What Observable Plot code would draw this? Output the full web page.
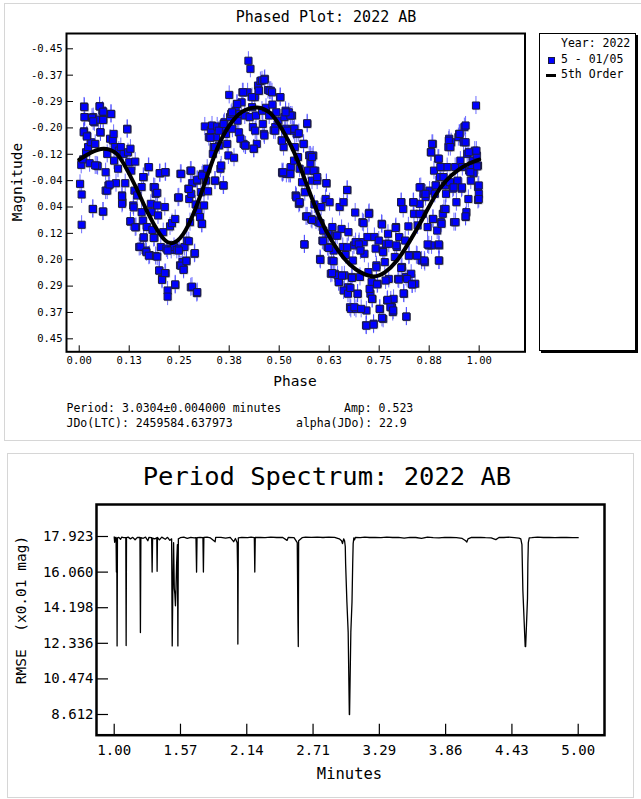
<!DOCTYPE html>
<html><head><meta charset="utf-8">
<script src="https://cdn.jsdelivr.net/npm/d3@7"></script>
<script src="https://cdn.jsdelivr.net/npm/@observablehq/plot@0.6"></script>
<style>
body{margin:0;background:#fff;width:641px;height:799px;overflow:hidden;font-family:"DejaVu Sans Mono",monospace;color:#000}
#root{position:relative;width:641px;height:799px;overflow:hidden}
.abs{position:absolute;white-space:pre;line-height:1}
svg{position:absolute}
</style></head><body><div id="root"></div>
<script>
// ---------- DATA ----------
const phaseTicks = [0, 0.125, 0.25, 0.375, 0.5, 0.625, 0.75, 0.875, 1];
const phaseTickLabels = ["0.00","0.13","0.25","0.38","0.50","0.63","0.75","0.88","1.00"];
const magTicks = [-0.45,-0.3682,-0.2864,-0.2045,-0.1227,-0.0409,0.0409,0.1227,0.2045,0.2864,0.3682,0.45];
const magTickLabels = ["-0.45","-0.37","-0.29","-0.20","-0.12","-0.04","0.04","0.12","0.20","0.29","0.37","0.45"];
const magError = 0.028;
// observations: [phase, magnitude]
const observations = [
[0.002,-0.031],[0.006,0.002],[0.006,0.096],[0.005,-0.09],[0.01,-0.107],[0.012,-0.271],[0.014,-0.238],[0.012,-0.194],
[0.019,-0.181],[0.017,-0.129],[0.022,-0.145],[0.026,-0.095],[0.03,-0.16],[0.034,0.047],[0.035,-0.238],[0.038,-0.222],
[0.04,-0.155],[0.044,-0.088],[0.046,-0.086],[0.048,-0.23],[0.051,-0.272],[0.053,-0.191],[0.058,-0.258],[0.06,-0.232],
[0.059,0.055],[0.066,-0.067],[0.066,-0.01],[0.07,-0.124],[0.073,-0.026],[0.079,-0.248],[0.077,-0.171],[0.084,-0.166],
[0.087,-0.103],[0.089,-0.145],[0.092,-0.033],[0.097,-0.078],[0.099,-0.134],[0.107,0.005],[0.108,0.026],[0.104,-0.145],
[0.111,-0.124],[0.115,-0.033],[0.12,-0.202],[0.122,-0.129],[0.125,-0.098],[0.128,-0.14],[0.128,0.086],[0.13,-0.072],
[0.135,0.036],[0.138,-0.01],[0.14,-0.1],[0.142,0.103],[0.145,0.005],[0.15,0.165],[0.156,-0.021],[0.156,0.057],
[0.159,0.083],[0.161,0.136],[0.161,-0.052],[0.166,0.176],[0.169,0.103],[0.173,-0.083],[0.176,0.19],[0.179,0.031],
[0.181,0.057],[0.183,0.112],[0.186,-0.021],[0.188,0.136],[0.191,0],[0.191,0.193],[0.195,0.036],[0.197,0.067],
[0.2,0.238],[0.202,-0.064],[0.204,0.165],[0.207,0.264],[0.21,0.119],[0.214,0.041],[0.216,-0.067],[0.216,0.246],
[0.218,0.17],[0.221,0.3],[0.227,0.101],[0.232,0.091],[0.23,0.174],[0.237,0.165],[0.24,0.283],[0.24,0.078],
[0.244,0.174],[0.247,0.012],[0.25,0.17],[0.252,0.222],[0.253,-0.062],[0.258,0.212],[0.261,0.233],[0.263,0.165],
[0.268,0.207],[0.269,0.145],[0.273,-0.016],[0.275,0.016],[0.277,0.088],[0.278,-0.072],[0.279,0.29],[0.28,0],
[0.283,-0.033],[0.288,0.186],[0.291,0.033],[0.294,0.308],[0.295,-0.041],[0.298,0.057],[0.302,0.072],[0.304,-0.005],
[0.306,0.093],[0.309,-0.062],[0.312,0.036],[0.314,-0.209],[0.317,-0.041],[0.322,-0.008],[0.324,-0.176],[0.329,-0.197],
[0.332,-0.212],[0.334,-0.124],[0.336,-0.145],[0.339,-0.041],[0.342,-0.176],[0.345,-0.209],[0.35,-0.15],[0.353,-0.078],
[0.355,-0.088],[0.358,-0.207],[0.36,-0.026],[0.363,-0.222],[0.367,-0.186],[0.37,-0.155],[0.373,-0.119],[0.375,-0.307],
[0.377,-0.238],[0.38,-0.248],[0.383,-0.202],[0.387,-0.112],[0.391,-0.258],[0.394,-0.279],[0.396,-0.227],[0.399,-0.191],
[0.401,-0.248],[0.406,-0.284],[0.408,-0.315],[0.411,-0.155],[0.414,-0.243],[0.416,-0.15],[0.421,-0.315],[0.423,-0.413],
[0.426,-0.238],[0.428,-0.388],[0.432,-0.269],[0.434,-0.207],[0.437,-0.14],[0.439,-0.3],[0.442,-0.243],[0.444,-0.155],
[0.447,-0.336],[0.449,-0.32],[0.453,-0.35],[0.457,-0.258],[0.459,-0.217],[0.462,-0.186],[0.464,-0.357],[0.467,-0.267],
[0.472,-0.322],[0.475,-0.243],[0.479,-0.32],[0.483,-0.277],[0.486,-0.197],[0.49,-0.207],[0.493,-0.253],[0.498,-0.227],
[0.502,-0.3],[0.506,-0.166],[0.508,-0.064],[0.511,-0.145],[0.513,-0.238],[0.516,-0.202],[0.518,-0.062],[0.524,-0.253],
[0.527,-0.062],[0.529,-0.083],[0.532,-0.243],[0.534,-0.202],[0.537,-0.103],[0.539,-0.145],[0.541,0.005],[0.544,-0.186],
[0.547,-0.114],[0.549,0.031],[0.551,-0.078],[0.557,-0.036],[0.561,-0.155],[0.563,0.157],[0.564,-0.005],[0.567,0.07],
[0.57,-0.217],[0.572,-0.072],[0.575,-0.119],[0.578,-0.095],[0.58,0.078],[0.582,-0.041],[0.585,-0.119],[0.588,0.033],
[0.59,-0.072],[0.592,0.083],[0.595,-0.041],[0.598,0.088],[0.602,0.202],[0.605,0.041],[0.608,0.145],[0.61,0.114],
[0.616,0.016],[0.618,-0.033],[0.621,0.165],[0.623,0.124],[0.626,0.026],[0.629,0.248],[0.631,0.207],[0.633,0.103],
[0.636,0.176],[0.639,0.248],[0.641,0.129],[0.646,0.253],[0.649,0.274],[0.651,0.041],[0.656,0.109],[0.659,0.165],
[0.661,0.026],[0.663,0.253],[0.666,0.19],[0.67,-0.012],[0.672,0.29],[0.673,0.119],[0.677,0.352],[0.679,0.357],
[0.682,0.258],[0.684,0.207],[0.687,0.16],[0.69,0.058],[0.692,0.357],[0.696,0.31],[0.7,0.15],[0.702,0.258],
[0.708,0.088],[0.711,0.15],[0.713,0.186],[0.717,0.408],[0.718,0.362],[0.721,0.134],[0.723,0.243],[0.725,0.059],
[0.728,0.31],[0.731,0.274],[0.733,0.326],[0.736,0.403],[0.738,0.134],[0.741,0.17],[0.743,0.222],[0.746,0.279],
[0.749,0.145],[0.752,0.357],[0.756,0.093],[0.759,0.176],[0.76,0.388],[0.764,0.212],[0.767,0.155],[0.77,0.331],
[0.772,0.124],[0.774,0.264],[0.779,0.331],[0.782,0.352],[0.784,0.367],[0.786,0.326],[0.789,0.196],[0.792,0.103],
[0.794,0.165],[0.797,0.264],[0.8,0.134],[0.805,0.026],[0.807,0.227],[0.81,0.047],[0.812,0.31],[0.815,0.145],
[0.817,0.258],[0.818,0.381],[0.823,0.101],[0.825,0.19],[0.83,0.248],[0.833,0.281],[0.835,0.026],[0.837,0.062],
[0.84,0.279],[0.843,0.19],[0.846,0.098],[0.851,0.031],[0.854,-0.021],[0.856,0.207],[0.859,0.062],[0.861,0],
[0.864,0.212],[0.866,0.01],[0.871,0.103],[0.874,0.16],[0.876,-0.01],[0.879,-0.129],[0.881,0.16],[0.884,-0.155],
[0.884,0.078],[0.887,-0.072],[0.889,0],[0.892,-0.026],[0.895,0.114],[0.897,-0.109],[0.9,0.207],[0.9,0.16],
[0.902,-0.052],[0.905,0.088],[0.907,-0.083],[0.909,0.062],[0.912,0.047],[0.915,-0.026],[0.917,0],[0.92,-0.083],
[0.923,-0.145],[0.925,-0.171],[0.927,-0.036],[0.93,-0.16],[0.934,-0.016],[0.937,0.088],[0.94,-0.083],[0.943,0.026],
[0.946,-0.041],[0.948,-0.176],[0.95,-0.186],[0.953,-0.103],[0.956,-0.016],[0.958,-0.083],[0.961,-0.16],[0.963,-0.207],
[0.966,0.072],[0.968,0.057],[0.97,-0.124],[0.973,0.016],[0.975,-0.072],[0.979,-0.041],[0.981,-0.088],[0.984,-0.103],
[0.986,-0.064],[0.989,-0.134],[0.992,-0.274],[0.994,-0.119],[0.997,-0.021],[0.997,0.019],[0.999,0],[0.997,-0.088],
// denser reading of the crowded regions
[0.328,-0.174],[0.34,-0.145],[0.349,-0.196],[0.361,-0.217],[0.382,-0.253],[0.395,-0.279],[0.403,-0.171],[0.41,-0.315],
[0.415,-0.15],[0.432,-0.3],[0.436,-0.14],[0.44,-0.196],[0.449,-0.32],[0.457,-0.352],[0.463,-0.354],[0.463,-0.181],
[0.476,-0.32],[0.482,-0.315],[0.49,-0.196],[0.503,-0.3],[0.507,-0.165],[0.516,-0.258],[0.528,-0.243],[0.536,-0.196],
[0.507,-0.067],[0.524,-0.062],[0.013,-0.269],[0.013,-0.238],[0.011,-0.191],[0.019,-0.178],[0.032,-0.236],[0.035,-0.225],
[0.051,-0.271],[0.06,-0.255],[0.06,-0.229],[0.053,-0.191],[0.08,-0.248],[0.086,-0.186],[0.12,-0.2],[0.04,-0.088],
[0.07,-0.01],[0.076,-0.029],[0.107,0.031],[0.136,0.042],[0.16,-0.052],[0.174,-0.083],[0.189,-0.02],[0.195,-0.003],
[0.201,-0.064],[0.215,-0.067],[0.249,0.011],[0.255,-0.062],[0.274,-0.015],[0.28,-0.072],[0.295,-0.044],[0.307,-0.057],
[0.32,-0.078],[0.34,-0.041],[0.361,-0.026],
[0.542,0.008],[0.551,0.028],[0.57,0.07],[0.582,0.081],[0.603,0.091],[0.563,0.157],[0.603,0.205],[0.61,0.147],
[0.624,0.168],[0.632,0.246],[0.636,0.209],[0.645,0.13],[0.649,0.274],[0.657,0.254],[0.661,0.3],[0.67,0.166],
[0.672,0.31],[0.678,0.292],[0.682,0.261],[0.688,0.352],[0.691,0.15],[0.696,0.31],[0.699,0.157],[0.703,0.176],
[0.705,0.357],[0.711,0.091],[0.718,0.409],[0.724,0.062],[0.726,0.295],[0.732,0.326],[0.736,0.406],[0.743,0.228],
[0.745,0.281],[0.751,0.357],[0.757,0.095],[0.757,0.385],[0.76,0.181],[0.766,0.269],[0.771,0.329],[0.774,0.155],
[0.778,0.352],[0.785,0.362],[0.791,0.106],[0.793,0.16],[0.799,0.266],[0.805,0.23],[0.805,0.026],[0.811,0.309],
[0.818,0.381],[0.82,0.264],[0.824,0.192],[0.832,0.281],[0.836,0.026],[0.845,0.192],[0.851,0.062],[0.863,0.207],
[0.871,0.157],[0.885,0.078],[0.899,0.157],[0.899,0.207],[0.906,0.093],[0.916,0.047],[0.941,0.088],[0.966,0.07],
[0.516,-0.253],[0.52,-0.196],[0.538,-0.202],[0.549,-0.188],[0.57,-0.219],[0.561,-0.155],[0.578,-0.119],[0.582,-0.114],
[0.586,-0.072],[0.51,-0.067],[0.528,-0.062],[0.543,0.011],[0.551,0.026],[0.595,-0.052],[0.618,-0.033],[0.67,-0.012],
[0.882,-0.155],[0.88,-0.129],[0.899,-0.109],[0.924,-0.165],[0.928,-0.145],[0.951,-0.186],[0.966,-0.212],[0.966,-0.16],
[0.974,-0.129],[0.993,-0.134],[0.995,-0.085],[0.999,-0.026],[0.999,0.016],[0.851,-0.02],[0.866,0],[0.891,-0.026],
[0.903,-0.083],[0.911,-0.052],[0.936,-0.02],[0.957,-0.02],[0.978,-0.067],
[0.034,0.047],[0.06,0.055],[0.107,0.008],[0.128,0.085],[0.14,0.104],[0.153,0.164],[0.161,0.135],[0.168,0.181],
[0.174,0.192],[0.186,0.137],[0.195,0.195],[0.2,0.238],[0.207,0.267],[0.214,0.246],[0.221,0.319],[0.221,0.176],
[0.24,0.281],[0.249,0.176],[0.255,0.223],[0.261,0.236],[0.268,0.209],[0.274,0.147],[0.282,0.288],[0.289,0.184],
[0.295,0.305],[0.307,0.093]
];
// 5th order fit curve
const fitPhase = [0,0.03,0.061,0.09,0.11,0.14,0.171,0.2,0.228,0.26,0.29,0.32,0.35,0.385,0.415,0.445,0.478,0.508,0.539,0.57,0.6,0.631,0.662,0.692,0.732,0.764,0.794,0.825,0.856,0.887,0.917,0.948,0.975,1];
const fitMag = [-0.106,-0.128,-0.14,-0.128,-0.096,-0.025,0.058,0.122,0.153,0.125,0.048,-0.055,-0.155,-0.228,-0.26,-0.268,-0.25,-0.198,-0.124,-0.025,0.07,0.145,0.2,0.235,0.256,0.244,0.208,0.15,0.083,0.012,-0.04,-0.074,-0.094,-0.106];

const minuteTicks = [1, 1.5714, 2.1429, 2.7143, 3.2857, 3.8571, 4.4286, 5];
const minuteTickLabels = ["1.00","1.57","2.14","2.71","3.29","3.86","4.43","5.00"];
const rmseTicks = [8.612, 10.474, 12.336, 14.198, 16.060, 17.923];
const rmseTickLabels = ["8.612","10.474","12.336","14.198","16.060","17.923"];
// period spectrum: [minutes, RMSE]
const spectrum = [
[1.000,17.90],[1.004,17.62],[1.008,17.88],[1.012,17.70],[1.016,17.88],[1.019,16.06],[1.022,17.80],[1.025,12.20],[1.028,17.85],
[1.040,17.88],[1.055,17.78],[1.065,17.89],[1.080,17.86],[1.100,17.86],[1.103,12.22],[1.106,17.87],[1.120,17.89],[1.140,17.80],
[1.160,17.88],[1.180,17.75],[1.200,17.88],[1.222,17.87],[1.226,12.90],[1.230,17.86],[1.250,17.83],[1.270,17.89],[1.290,17.70],
[1.300,17.88],[1.323,17.86],[1.327,16.06],[1.331,17.84],[1.350,17.80],[1.367,17.86],[1.370,16.10],[1.373,17.87],[1.390,17.75],
[1.410,17.89],[1.440,17.78],[1.460,17.88],[1.480,17.72],[1.495,17.80],[1.500,12.20],[1.505,15.00],[1.512,17.60],[1.518,15.20],
[1.523,14.90],[1.528,14.30],[1.532,15.00],[1.538,16.50],[1.545,17.50],[1.549,12.20],[1.553,17.80],[1.570,17.86],[1.600,17.89],
[1.630,17.83],[1.660,17.88],[1.690,17.85],[1.705,17.86],[1.710,16.06],[1.714,17.86],[1.740,17.88],[1.765,17.86],[1.769,16.06],
[1.773,17.87],[1.800,17.89],[1.830,17.85],[1.870,17.65],[1.875,17.88],[1.920,17.88],[1.960,17.84],[2.000,17.88],[2.030,17.65],
[2.045,17.82],[2.060,17.60],[2.064,16.20],[2.066,12.30],[2.070,17.85],[2.100,17.88],[2.150,17.86],[2.180,17.89],[2.208,17.86],
[2.212,16.06],[2.216,17.87],[2.260,17.88],[2.300,17.86],[2.350,17.89],[2.400,17.87],[2.450,17.88],[2.490,17.72],[2.500,17.87],
[2.550,17.86],[2.578,17.60],[2.584,13.53],[2.587,12.17],[2.590,17.70],[2.620,17.86],[2.650,17.89],[2.700,17.88],[2.750,17.89],
[2.800,17.87],[2.850,17.89],[2.900,17.88],[2.940,17.80],[2.960,17.70],[2.968,17.55],[2.978,17.80],[2.986,17.70],[2.992,17.40],
[2.995,16.50],[3.006,14.50],[3.017,12.92],[3.027,8.61],[3.029,8.61],[3.040,12.92],[3.050,14.50],[3.056,16.50],[3.060,17.55],
[3.066,17.85],[3.072,17.75],[3.080,17.88],[3.120,17.86],
[3.160,17.89],[3.200,17.87],[3.250,17.88],[3.300,17.86],[3.350,17.89],[3.400,17.87],[3.450,17.88],[3.500,17.84],[3.550,17.88],
[3.600,17.87],[3.650,17.82],[3.700,17.89],[3.750,17.86],[3.800,17.85],[3.850,17.88],[3.900,17.87],[3.950,17.86],[4.000,17.82],
[4.030,17.70],[4.040,17.63],[4.050,17.80],[4.080,17.88],[4.120,17.87],[4.160,17.88],[4.200,17.86],[4.250,17.85],[4.290,17.76],
[4.320,17.88],[4.360,17.87],[4.400,17.89],[4.450,17.86],[4.490,17.84],[4.505,17.80],[4.515,17.50],[4.520,16.00],[4.523,15.10],
[4.543,12.17],[4.547,12.17],[4.563,14.70],[4.566,16.50],[4.570,17.60],[4.578,17.85],[4.600,17.86],[4.650,17.89],[4.700,17.87],[4.750,17.88],
[4.800,17.86],[4.850,17.88],[4.900,17.87],[4.950,17.86],[5.000,17.86]
];

// ---------- LAYOUT ----------
const root = document.getElementById("root");
function box(l,t,w,h,style){const d=document.createElement("div");d.style.cssText=`position:absolute;left:${l}px;top:${t}px;width:${w}px;height:${h}px;box-sizing:border-box;${style}`;root.appendChild(d);return d;}
function label(text,x,y,size,align,rot){const d=document.createElement("div");d.className="abs";d.textContent=text;d.style.left=x+"px";d.style.top=y+"px";d.style.fontSize=size+"px";const tr=align==="l"?"translate(0,-50%)":"translate(-50%,-50%)";d.style.transform=tr+(rot?` rotate(${rot}deg)`:"");root.appendChild(d);return d;}
function place(svg,l,t){svg.style.left=l+"px";svg.style.top=t+"px";root.appendChild(svg);}

// panel borders
box(4,3,660,438,"border:1px solid #d6d6d6;");
box(7,453,627,345,"border:1px solid #d6d6d6;");

// ---------- TOP: phased plot ----------
const W1=540,H1=400,ML1=66,MT1=33,MR1=15.5,MB1=48.7;
const PW1=W1-ML1-MR1, PH1=H1-MT1-MB1;
const phased = Plot.plot({
  width:W1,height:H1,marginLeft:ML1,marginTop:MT1,marginRight:MR1,marginBottom:MB1,
  style:{fontFamily:"DejaVu Sans Mono",fontSize:"10.5px",color:"#000",background:"none",overflow:"visible"},
  x:{domain:[-0.0318,1.1146]},
  y:{domain:[-0.4975,0.4903],reverse:true},
  marks:[
    Plot.ruleX(observations,{x:d=>d[0],y1:d=>d[1]-magError,y2:d=>d[1]+magError,stroke:"#3c3cff",strokeOpacity:0.75,strokeWidth:1}),
    Plot.dot(observations,{x:d=>d[0],y:d=>d[1],symbol:"square",r:4.3,fill:"#888",fillOpacity:0.45,stroke:"none",dx:0.8,dy:0.8}),
    Plot.dot(observations,{x:d=>d[0],y:d=>d[1],symbol:"square",r:4,fill:"#0000ff",stroke:"#1c1c40",strokeWidth:1}),
    Plot.line(fitPhase,{x:fitPhase,y:fitMag,stroke:"#000",strokeWidth:4,curve:"natural"}),
    Plot.tickX(phaseTicks,{x:d=>d,insetTop:PH1-6,stroke:"#000"}),
    Plot.tickY(magTicks,{y:d=>d,insetRight:PW1-7,stroke:"#000"}),
    Plot.axisX(phaseTicks,{tickSize:0,tickPadding:5,tickFormat:d=>phaseTickLabels[phaseTicks.indexOf(d)],label:null}),
    Plot.axisY(magTicks,{tickSize:0,tickPadding:4,tickFormat:d=>magTickLabels[magTicks.indexOf(d)],label:null}),
    Plot.frame({stroke:"#000",strokeWidth:2})
  ]
});
place(phased,0,0);
label("Phased Plot: 2022 AB",326,17,15);
label("Magnitude",16.5,182,14.5,"c",-90);
label("Phase",295,381,14.5);
label("Period: 3.0304\u00b10.004000 minutes",66.5,409,11.5,"l");
label("Amp: 0.523",344,409,11.5,"l");
label("JDo(LTC): 2459584.637973",66.5,424,11.5,"l");
label("alpha(JDo): 22.9",296,424,11.5,"l");
// legend
box(539,33,97,318,"border:1px solid #000;box-shadow:2px 2px 0 #000;background:#fff;");
label("Year: 2022",561,44,11.5,"l");
box(548,57,7,7,"background:#0000ff;border:1px solid #1c1c40;");
label("5 - 01/05",561,60,11.5,"l");
box(546,74,10,3,"background:#000;");
label("5th Order",561,75,11.5,"l");

// ---------- BOTTOM: period spectrum ----------
const W2=620,H2=320,ML2=96,MT2=54,MR2=16,MB2=35.3;
const PW2=W2-ML2-MR2, PH2=H2-MT2-MB2;
const spec = Plot.plot({
  width:W2,height:H2,marginLeft:ML2,marginTop:MT2,marginRight:MR2,marginBottom:MB2,
  style:{fontFamily:"DejaVu Sans Mono",fontSize:"14px",color:"#000",background:"none",overflow:"visible"},
  x:{domain:[0.8474,5.2267]},
  y:{domain:[7.529,19.597]},
  marks:[
    Plot.line(spectrum,{x:d=>d[0],y:d=>d[1],stroke:"#000",strokeWidth:1.3}),
    Plot.tickX(minuteTicks,{x:d=>d,insetTop:PH2-11,stroke:"#000",strokeWidth:1.2}),
    Plot.tickY(rmseTicks,{y:d=>d,insetRight:PW2-12,stroke:"#000",strokeWidth:1.2}),
    Plot.axisX(minuteTicks,{tickSize:0,tickPadding:10,tickFormat:d=>minuteTickLabels[minuteTicks.indexOf(d)],label:null}),
    Plot.axisY(rmseTicks,{tickSize:0,tickPadding:3,tickFormat:d=>rmseTickLabels[rmseTicks.indexOf(d)],label:null}),
    Plot.frame({stroke:"#000",strokeWidth:2.5})
  ]
});
place(spec,0,450);
label("Period Spectrum: 2022 AB",327,477,25.5);
label("RMSE  (x0.01 mag)",20.5,610,14.5,"c",-90);
label("Minutes",349.5,775,15.5);
</script></body></html>
